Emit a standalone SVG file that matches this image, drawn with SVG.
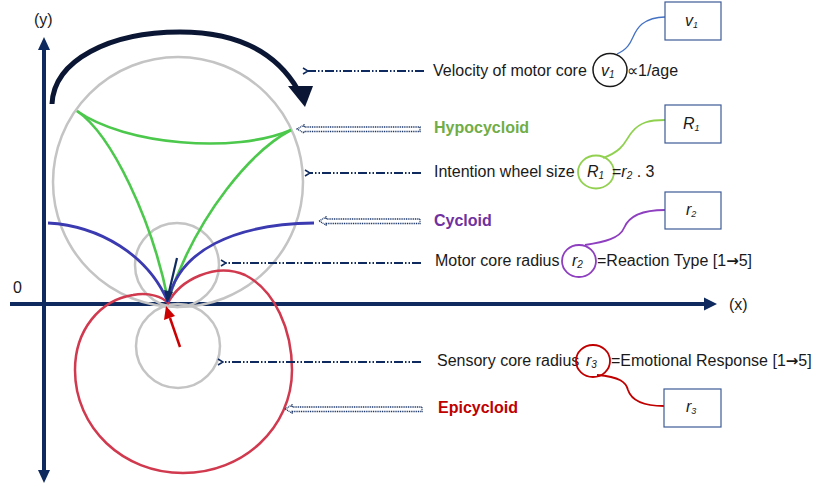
<svg xmlns="http://www.w3.org/2000/svg" width="821" height="487" viewBox="0 0 821 487">
<style>
.t{font-family:"Liberation Sans",Arial,sans-serif;font-size:16px;fill:#1a1a1a}
.b{font-weight:bold}
.i{font-style:italic}
.ar{font-family:"DejaVu Sans",sans-serif;font-weight:bold;font-size:15px}
.g{fill:none;stroke:#c4c4c4;stroke-width:2.5}
.dd{fill:none;stroke:#0e2a5e;stroke-width:2;stroke-dasharray:9 2 1.5 2 1.5 2}
.dot{fill:none;stroke:#0e2a5e;stroke-width:1.3;stroke-dasharray:1 0.8}
.box{fill:#fff;stroke:#3d5a96;stroke-width:1.2}
.ax{stroke:#0e2a5e;stroke-width:4;fill:none}
</style>
<defs>
<marker id="oh" markerWidth="8" markerHeight="8" refX="1" refY="4" orient="auto" markerUnits="userSpaceOnUse">
<path d="M6,1 L1,4 L6,7" fill="none" stroke="#0e2a5e" stroke-width="1.5"/>
</marker>
</defs>
<g id="axes">
<line class="ax" x1="10" y1="304" x2="706" y2="304"/>
<polygon points="717,304 704,297.5 704,310.5" fill="#0e2a5e"/>
<line class="ax" x1="44" y1="48" x2="44" y2="472" stroke-width="3.5"/>
<polygon points="44,37 38,50 50,50" fill="#0e2a5e"/>
<polygon points="44,483 38,470 50,470" fill="#0e2a5e"/>
<text class="t" x="34" y="25" font-size="15">(y)</text>
<text class="t" x="729" y="310" font-size="15">(x)</text>
<text class="t" x="13" y="293" font-size="15">0</text>
</g>
<g id="circles">
<circle class="g" cx="178" cy="182" r="125"/>
<circle class="g" cx="177" cy="265" r="42"/>
<circle class="g" cx="178" cy="346" r="42"/>
</g>
<g id="epicycloid-curve">
<path d="M168,303 C180,280 215,262 245,275 C275,290 292,330 292,370 C292,428 243,473 183,473 C123,473 75,428 75,370 C75,330 100,300 133,295 C150,292 162,297 168,303 Z" fill="none" stroke="#d0394e" stroke-width="2.5"/>
</g>
<g id="hypocycloid-curve" fill="none" stroke="#4cc84c" stroke-width="2.6">
<path d="M77,111 C125,145 235,154 291,130"/>
<path d="M77,111 C112,135 152,220 168,300"/>
<path d="M291,130 C253,150 198,212 168,300"/>
</g>
<g id="cycloid-curve" fill="none" stroke="#3b3ab0" stroke-width="2.8">
<path d="M48,223 C100,226 148,255 168,302"/>
<path d="M168,302 C178,250 235,224 314,223"/>
</g>
<g id="radius-arrows">
<line x1="177" y1="258" x2="169" y2="292" stroke="#0e2a5e" stroke-width="2.2"/>
<polygon points="167,303 164,290 173,292" fill="#0e2a5e"/>
<line x1="180" y1="347" x2="170" y2="318" stroke="#cc0000" stroke-width="2.5"/>
<polygon points="166,306 164,320 175,316" fill="#cc0000"/>
</g>
<g id="rotation-arrow">
<path d="M52,104 C54,60 110,32 180,32 C236,32 276,52 298,90" fill="none" stroke="#0a1633" stroke-width="5"/>
<polygon points="288,86 313,86 305,107" fill="#0a1633"/>
</g>
<g id="connectors">
<line class="dd" x1="424" y1="71" x2="308" y2="71" marker-end="url(#oh)"/>
<path class="dot" d="M297,129 L304,125 L304,127 L420,127 L420,131.5 L304,131.5 L304,133 Z"/>
<line class="dd" x1="421" y1="173" x2="310" y2="173" marker-end="url(#oh)"/>
<path class="dot" d="M319,221 L326,217 L326,219 L420,219 L420,223.5 L326,223.5 L326,225 Z"/>
<line class="dd" x1="421" y1="263" x2="226" y2="263" marker-end="url(#oh)"/>
<line class="dd" x1="421" y1="362" x2="223" y2="362" marker-end="url(#oh)"/>
<path class="dot" d="M285,409 L292,405 L292,407 L422,407 L422,411.5 L292,411.5 L292,413 Z"/>
<path d="M617,54 C635,46 630,34 642,24 C650,18 657,17 665,17" fill="none" stroke="#4472c4" stroke-width="1.3"/>
<path d="M603,158 C625,150 625,140 632,132 C640,122 650,120 665,120" fill="none" stroke="#8fd14f" stroke-width="1.8"/>
<path d="M585,245 C605,242 620,238 624,228 C628,218 640,210 665,210" fill="none" stroke="#8e3fc0" stroke-width="1.8"/>
<path d="M597,375 C620,377 626,382 628,390 C632,402 645,406 664,406" fill="none" stroke="#c00000" stroke-width="1.8"/>
</g>
<g id="label-velocity">
<text class="t" x="433" y="76">Velocity of motor core</text>
<ellipse cx="610" cy="70" rx="17" ry="16.5" fill="none" stroke="#1a1a1a" stroke-width="1.5"/>
<text class="t i" x="601" y="76">v<tspan font-size="10" dy="2">1</tspan></text>
<text class="t" x="627" y="76">∝1/age</text>
</g>
<g id="box-v1">
<rect class="box" x="665" y="2" width="56" height="38"/>
<text class="t i" x="685" y="26" font-size="14">v<tspan font-size="9" dy="2">1</tspan></text>
</g>
<g id="label-hypocycloid">
<text class="t b" x="434" y="133" style="fill:#70ad47">Hypocycloid</text>
</g>
<g id="label-intention">
<text class="t" x="434" y="177">Intention wheel size</text>
<ellipse cx="596" cy="172" rx="18" ry="16.5" fill="none" stroke="#92d050" stroke-width="1.8"/>
<text class="t i" x="587" y="177">R<tspan font-size="10" dy="2">1</tspan></text>
<text class="t" x="612" y="177">=<tspan class="i">r</tspan><tspan font-size="10" dy="2" class="i">2</tspan><tspan dy="-2"> . 3</tspan></text>
</g>
<g id="box-R1">
<rect class="box" x="665" y="105" width="56" height="38"/>
<text class="t i" x="683" y="129" font-size="14">R<tspan font-size="9" dy="2">1</tspan></text>
</g>
<g id="label-cycloid">
<text class="t b" x="434" y="226" style="fill:#7030a0">Cycloid</text>
</g>
<g id="label-motor">
<text class="t" x="435" y="266">Motor core radius</text>
<ellipse cx="579" cy="261" rx="17" ry="16" fill="none" stroke="#8e3fc0" stroke-width="1.8"/>
<text class="t i" x="572" y="266">r<tspan font-size="10" dy="2">2</tspan></text>
<text class="t" x="597" y="266">=Reaction Type [1<tspan class="ar">→</tspan>5]</text>
</g>
<g id="box-r2">
<rect class="box" x="665" y="192" width="56" height="37"/>
<text class="t i" x="686" y="215" font-size="14">r<tspan font-size="9" dy="2">2</tspan></text>
</g>
<g id="label-sensory">
<text class="t" x="437" y="366">Sensory core radius</text>
<ellipse cx="593" cy="361" rx="17" ry="16" fill="none" stroke="#c00000" stroke-width="1.8"/>
<text class="t i" x="586" y="366">r<tspan font-size="10" dy="2">3</tspan></text>
<text class="t" x="611" y="366">=Emotional Response [1<tspan class="ar">→</tspan>5]</text>
</g>
<g id="box-r3">
<rect class="box" x="664" y="389" width="57" height="38"/>
<text class="t i" x="686" y="412" font-size="14">r<tspan font-size="9" dy="2">3</tspan></text>
</g>
<g id="label-epicycloid">
<text class="t b" x="438" y="413" style="fill:#c00000">Epicycloid</text>
</g>
</svg>
